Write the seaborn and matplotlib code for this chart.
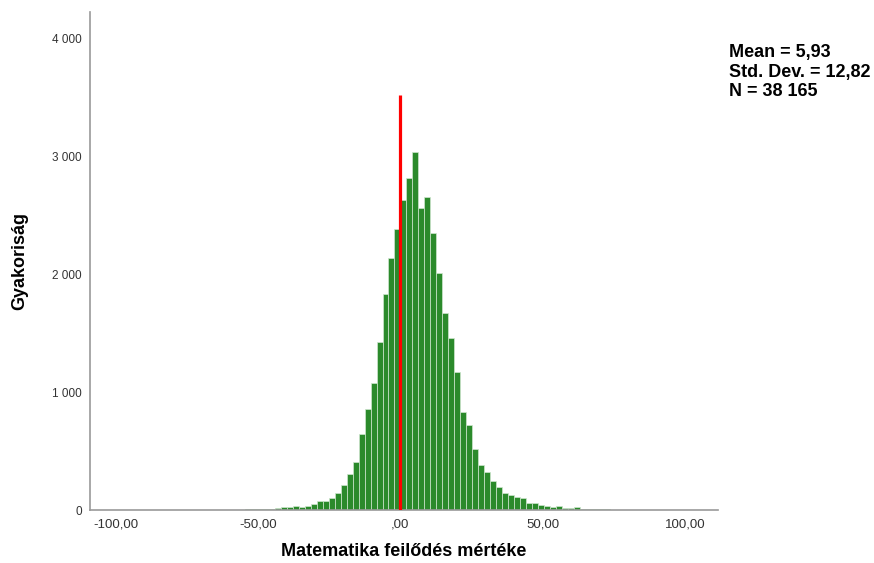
# Hisztogram: matematika fejlődés mértéke (SPSS-szerű kinézet)
import numpy as np
import pandas as pd
import seaborn as sns
import matplotlib.pyplot as plt

# Adatok (gyakoriságok, kb. 2,1 széles osztályok)
first_bin = -40
bin_width = 2.1
counts = [0, 0, 0, 0, 0, 2, 1, 1, 2, 3,
          2, 3, 4, 3, 5, 6, 7, 9, 12, 15,
          23, 25, 37, 28, 34, 54, 74, 79, 105, 147,
          210, 303, 408, 642, 862, 1080, 1430, 1835, 2137, 2386,
          2636, 2820, 3044, 2562, 2655, 2352, 2012, 1676, 1458, 1170,
          830, 725, 518, 382, 320, 249, 193, 147, 127, 110,
          99, 57, 57, 45, 34, 28, 37, 20, 20, 23,
          8, 8, 5, 5, 5, 4, 3, 2, 2, 1, 1]
x_ticks = [-100, -50, 0, 50, 100]
x_ticklabels = ["-100,00", "-50,00", ",00", "50,00", "100,00"]
y_ticks = [0, 1000, 2000, 3000, 4000]
y_ticklabels = ["0", "1 000", "2 000", "3 000", "4 000"]
stats_text = "Mean = 5,93\nStd. Dev. = 12,82\nN = 38 165"
ref_value = 0
ref_top = 3520

edges = (first_bin + np.arange(len(counts) + 1)) * bin_width
df = pd.DataFrame({"ertek": (edges[:-1] + edges[1:]) / 2, "db": counts})

sns.set_style("white")
plt.rcParams["font.family"] = ["Liberation Sans", "DejaVu Sans"]

fig = plt.figure(figsize=(8.74, 5.63), dpi=100)
ax = fig.add_axes([0.103, 0.094, 0.7185, 0.885])

sns.histplot(data=df, x="ertek", weights="db", bins=edges.tolist(), ax=ax,
             color="#2b8a2b", alpha=1, edgecolor="#cfe6cf", linewidth=0.5)
ax.vlines(ref_value, 0, ref_top, color="#ff0000", linewidth=2.3, zorder=5)

ax.set_xlim(-109, 111.5)
ax.set_ylim(0, 4230)
ax.set_xticks(x_ticks)
ax.set_xticklabels(x_ticklabels)
ax.set_yticks(y_ticks)
ax.set_yticklabels(y_ticklabels)
ax.tick_params(axis="x", labelsize=9.5, colors="#333333", length=0, pad=6)
ax.tick_params(axis="y", labelsize=8.5, colors="#333333", length=0, pad=6)

ax.set_xlabel("Matematika feilődés mértéke", fontsize=13, fontweight="bold",
              color="black", labelpad=9)
ax.set_ylabel("Gyakoriság", fontsize=13, fontweight="bold",
              color="black", labelpad=17)

sns.despine(ax=ax)
for side in ["left", "bottom"]:
    ax.spines[side].set_color("#999999")
    ax.spines[side].set_linewidth(1.2)

fig.text(0.834, 0.921, stats_text, fontsize=13, fontweight="bold",
         color="black", va="top", ha="left", linespacing=1.16)

plt.savefig("out.png", dpi=100, facecolor="white")
